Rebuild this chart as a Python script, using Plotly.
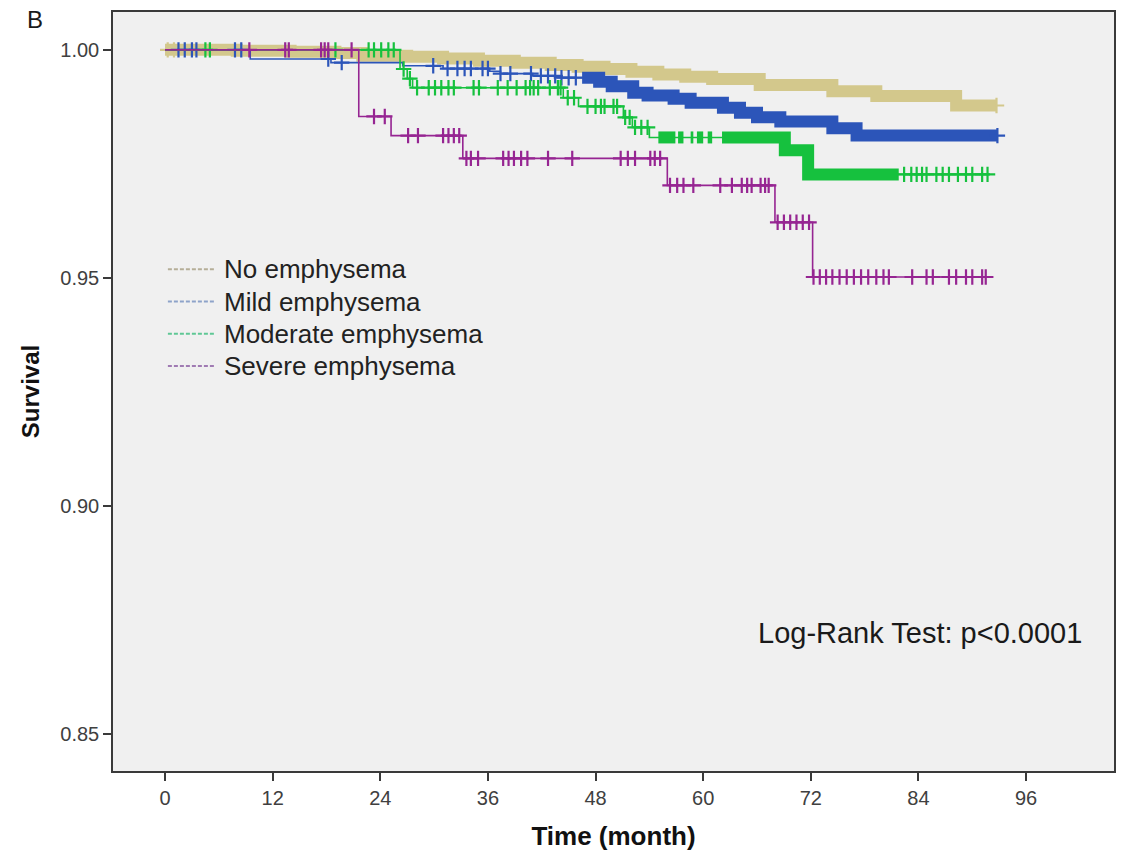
import plotly.graph_objects as go

# ---------------- data ----------------
x_tick_vals = [0, 12, 24, 36, 48, 60, 72, 84, 96]
y_tick_vals = [0.85, 0.90, 0.95, 1.00]
y_tick_text = ["0.85", "0.90", "0.95", "1.00"]

group_names = ["No emphysema", "Mild emphysema", "Moderate emphysema", "Severe emphysema"]
group_colors = ["#d3c88c", "#2c55b9", "#16c13e", "#962592"]
legend_colors = ["#b5ae98", "#8ea3c9", "#5fc795", "#a07bb3"]

# No emphysema
none_event_t = [8.0, 14.0, 19.0, 22.0, 27.0, 31.0, 35.0, 39.0, 43.0, 46.0, 49.0, 52.0, 55.0, 58.0, 61.0, 66.3, 74.4, 79.3, 88.2]
none_event_s = [0.9998, 0.9996, 0.9993, 0.9987, 0.9985, 0.9981, 0.9976, 0.9972, 0.9967, 0.9963, 0.9958, 0.9952, 0.9946, 0.9941, 0.9936, 0.9923, 0.9909, 0.9899, 0.9878]
none_end = 92.7
none_censor = [0.3, 1.0, 92.7]
none_dense = [[0.0, 92.7]]

# Mild emphysema
mild_event_t = [9.5, 18.5, 26.5, 31.0, 36.2, 37.4, 41.0, 43.8, 48.4, 49.8, 52.2, 53.8, 56.7, 58.6, 62.2, 64.1, 66.0, 68.6, 74.4, 77.1]
mild_event_s = [0.9980, 0.9972, 0.9965, 0.9959, 0.9953, 0.9948, 0.9943, 0.9939, 0.9930, 0.9920, 0.9906, 0.9900, 0.9893, 0.9884, 0.9873, 0.9862, 0.9852, 0.9843, 0.9828, 0.9812]
mild_end = 92.8
mild_censor = [1.5, 2.2, 3.0, 3.5, 7.8, 8.5, 18.2, 19.7, 29.9, 31.5, 32.6, 33.4, 34.1, 35.4, 36.0,
               37.4, 38.5, 40.8, 41.9, 42.7, 43.5, 44.2, 45.0, 45.8, 92.8]
mild_dense = [[46.5, 92.8]]

# Moderate emphysema
mod_event_t = [26.2, 27.0, 27.6, 44.4, 46.1, 51.1, 52.1, 54.0, 69.1, 71.7]
mod_event_s = [0.9958, 0.9937, 0.9917, 0.9895, 0.9876, 0.9852, 0.9830, 0.9808, 0.9780, 0.9727]
mod_end = 91.7
mod_censor = [4.5, 5.0, 19.0, 22.7, 23.3, 24.1, 24.9, 25.5, 26.6, 27.3,
              28.1, 29.4, 30.1, 30.8, 31.6, 32.2, 34.4, 35.0, 37.1, 38.2, 39.2, 40.2, 40.7,
              41.1, 41.6, 42.9, 43.8, 44.1, 44.9, 45.6, 47.1, 48.0, 48.6, 49.0, 50.0, 50.4,
              51.3, 51.8, 52.4, 53.1, 53.8, 82.4, 83.2, 83.8, 84.4, 84.9, 86.0, 86.7, 87.4,
              88.4, 89.3, 90.0, 91.1, 91.7]
mod_dense = [[55.0, 56.9], [57.2, 57.8], [58.6, 58.9], [59.3, 60.0], [60.5, 61.0], [62.1, 81.8]]

# Severe emphysema
sev_event_t = [21.6, 25.2, 33.2, 56.0, 68.0, 72.2]
sev_event_s = [0.9854, 0.9812, 0.9762, 0.9703, 0.9622, 0.9502]
sev_end = 91.5
sev_censor = [9.4, 13.4, 13.8, 17.4, 17.8, 18.2, 20.8, 23.3, 24.5,
              27.1, 28.2, 31.0, 31.6, 32.2, 32.8, 33.6, 34.1, 34.9, 37.7, 38.3, 38.9, 39.7,
              40.4, 42.7, 45.4, 50.8, 51.6, 52.4, 54.1, 54.6, 55.2, 56.3, 57.1, 57.8, 58.9,
              61.9, 63.2, 64.3, 64.9, 65.4, 66.4, 66.9, 67.3, 68.3, 69.0, 69.7, 70.4, 71.1,
              71.8, 72.3, 73.0, 73.7, 74.4, 75.2, 76.0, 76.8, 77.6, 78.4, 79.3, 80.1, 80.7,
              83.3, 84.9, 85.6, 87.4, 88.2, 89.3, 90.0, 91.1, 91.5]
sev_dense = []

log_rank_text = "Log-Rank Test: p<0.0001"
panel_label = "B"

groups = [
    (none_event_t, none_event_s, none_end, none_censor, none_dense),
    (mild_event_t, mild_event_s, mild_end, mild_censor, mild_dense),
    (mod_event_t, mod_event_s, mod_end, mod_censor, mod_dense),
    (sev_event_t, sev_event_s, sev_end, sev_censor, sev_dense),
]


def surv_at(t, et, es):
    s = 1.0
    for ti, si in zip(et, es):
        if ti <= t:
            s = si
    return s


FONT = "Liberation Sans, Arial, sans-serif"
W, H = 1124, 854
ML, MR, MT, MB = 113, 8, 12, 81
PW, PH = W - ML - MR, H - MT - MB


def px_to_paper(px, py):
    return (px - ML) / PW, 1 - (py - MT) / PH


fig = go.Figure()

for (et, es, end, cens, dense), name, col in zip(groups, group_names, group_colors):
    # Kaplan-Meier step line
    fig.add_trace(go.Scatter(
        x=[0.0] + et + [end], y=[1.0] + es + [es[-1]],
        mode="lines", line=dict(color=col, width=1.6, shape="hv"),
        name=name, showlegend=False, hoverinfo="skip"))
    # dense censoring bands
    if dense:
        bx, by = [], []
        for a, b in dense:
            xs = [a] + [t for t in et if a < t < b] + [b]
            bx += xs + [None]
            by += [surv_at(t, et, es) for t in xs] + [None]
        fig.add_trace(go.Scatter(
            x=bx, y=by, mode="lines", line=dict(color=col, width=12, shape="hv"),
            showlegend=False, hoverinfo="skip"))
    # censor marks
    fig.add_trace(go.Scatter(
        x=cens, y=[surv_at(t, et, es) for t in cens], mode="markers",
        marker=dict(symbol="cross-thin", size=11, line=dict(color=col, width=2.2)),
        showlegend=False, hoverinfo="skip"))

# legend (drawn as layout decoration for exact spacing)
legend_x0, legend_x1, legend_tx = 168, 216, 222
legend_y0, legend_dy = 270, 32.3
for i, (name, lc) in enumerate(zip(group_names, legend_colors)):
    py = legend_y0 + i * legend_dy
    xa, ya = px_to_paper(legend_x0, py)
    xb, _ = px_to_paper(legend_x1, py)
    xt, _ = px_to_paper(legend_tx, py)
    fig.add_shape(type="line", xref="paper", yref="paper", x0=xa, x1=xb, y0=ya, y1=ya,
                  line=dict(color=lc, width=2, dash="4px,2px"))
    fig.add_annotation(x=xt, y=ya, xref="paper", yref="paper", text=name, showarrow=False,
                       xanchor="left", yanchor="middle",
                       font=dict(family=FONT, size=26, color="#222222"))

fig.add_annotation(x=84.2, y=0.8722, xref="x", yref="y", text=log_rank_text,
                   showarrow=False, font=dict(family=FONT, size=29, color="#1a1a1a"))
bx_, by_ = px_to_paper(35, 20)
fig.add_annotation(x=bx_, y=by_, xref="paper", yref="paper", text=panel_label,
                   showarrow=False, xanchor="center", yanchor="middle",
                   font=dict(family=FONT, size=24, color="#1a1a1a"))

fig.update_layout(
    width=W, height=H,
    margin=dict(l=ML, r=MR, t=MT, b=MB),
    paper_bgcolor="white", plot_bgcolor="#f0f0f0",
    font=dict(family=FONT, color="#333333"),
    showlegend=False,
    xaxis=dict(range=[-5.8, 105.8], tickvals=x_tick_vals, showgrid=False, zeroline=False,
               showline=True, linecolor="#3a3a3a", linewidth=1.5, mirror=True,
               ticks="outside", ticklen=8, tickwidth=1.5, tickcolor="#3a3a3a",
               tickfont=dict(family=FONT, size=20, color="#404040"),
               title=dict(text="<b>Time (month)</b>", standoff=19,
                          font=dict(family=FONT, size=26, color="#111111"))),
    yaxis=dict(range=[0.8419, 1.0083], tickvals=y_tick_vals, ticktext=y_tick_text,
               showgrid=False, zeroline=False,
               showline=True, linecolor="#3a3a3a", linewidth=1.5, mirror=True,
               ticks="outside", ticklen=8, tickwidth=1.5, tickcolor="#3a3a3a",
               tickfont=dict(family=FONT, size=20, color="#404040"),
               title=dict(text="<b>Survival</b>", standoff=14,
                          font=dict(family=FONT, size=24, color="#111111"))),
)

fig.write_html("out.html")
